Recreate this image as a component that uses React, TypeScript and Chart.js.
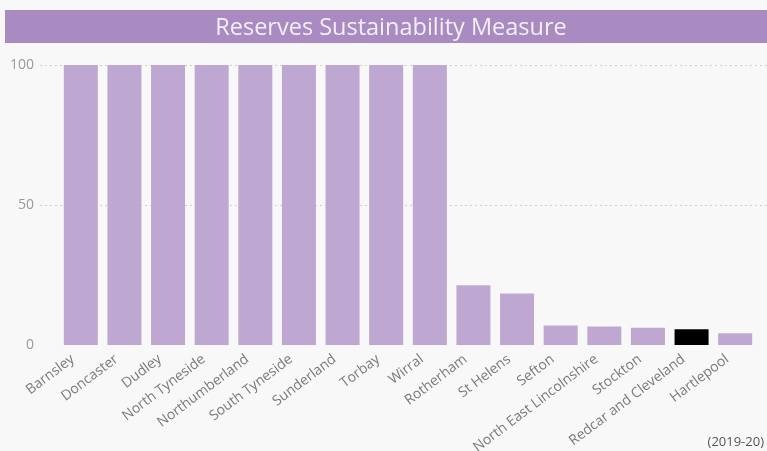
import React, { useEffect, useRef } from "react";
import { Chart, registerables } from "chart.js";

Chart.register(...registerables);

const categories: string[] = [
  "Barnsley",
  "Doncaster",
  "Dudley",
  "North Tyneside",
  "Northumberland",
  "South Tyneside",
  "Sunderland",
  "Torbay",
  "Wirral",
  "Rotherham",
  "St Helens",
  "Sefton",
  "North East Lincolnshire",
  "Stockton",
  "Redcar and Cleveland",
  "Hartlepool",
];

const values: number[] = [100, 100, 100, 100, 100, 100, 100, 100, 100, 21.3, 18.4, 7.0, 6.6, 6.2, 5.6, 4.2];

const highlighted: string[] = ["Redcar and Cleveland"];

const yTicks: number[] = [0, 50, 100];
const gridValues: number[] = [50, 100];

const titleText = "Reserves Sustainability Measure";
const footnote = "(2019-20)";

const BAR_COLOR = "#bea8d2";
const HIGHLIGHT_COLOR = "#000000";
const TITLE_BG = "#a98ac1";
const PAGE_BG = "#f9f8f9";
const FONT = "'Open Sans', 'Noto Sans', sans-serif";

const decorPlugin = {
  id: "decor",
  beforeDraw(chart: any) {
    const ctx = chart.ctx;
    const w = chart.width;
    const h = chart.height;
    ctx.save();
    ctx.fillStyle = PAGE_BG;
    ctx.fillRect(0, 0, w, h);
    ctx.fillStyle = TITLE_BG;
    ctx.fillRect(5, 10, w - 5, 33);
    ctx.fillStyle = "#f4eff7";
    ctx.font = `23.5px ${FONT}`;
    ctx.textAlign = "center";
    ctx.textBaseline = "alphabetic";
    ctx.fillText(titleText, 391, 35);
    ctx.fillStyle = "#555555";
    ctx.font = `13px ${FONT}`;
    ctx.textAlign = "right";
    ctx.textBaseline = "middle";
    ctx.fillText(footnote, 764, 442);
    ctx.restore();
  },
  beforeDatasetsDraw(chart: any) {
    const ctx = chart.ctx;
    const y = chart.scales.y;
    ctx.save();
    ctx.strokeStyle = "#cfcfcf";
    ctx.lineWidth = 1;
    ctx.setLineDash([2, 3]);
    for (const v of gridValues) {
      const py = Math.round(y.getPixelForValue(v)) + 0.5;
      ctx.beginPath();
      ctx.moveTo(40, py);
      ctx.lineTo(chart.width, py);
      ctx.stroke();
    }
    ctx.restore();
  },
};

export default function App() {
  const ref = useRef<HTMLCanvasElement | null>(null);

  useEffect(() => {
    if (!ref.current) return;
    const chart = new Chart(ref.current, {
      type: "bar",
      data: {
        labels: categories,
        datasets: [
          {
            data: values,
            backgroundColor: categories.map((c) => (highlighted.includes(c) ? HIGHLIGHT_COLOR : BAR_COLOR)),
            barPercentage: 0.78,
            categoryPercentage: 1,
          },
        ],
      },
      options: {
        animation: false,
        responsive: false,
        maintainAspectRatio: false,
        layout: { padding: { top: 65, right: 10, left: 0, bottom: 0 } },
        plugins: {
          legend: { display: false },
          title: { display: false },
          tooltip: { enabled: false },
        },
        scales: {
          x: {
            offset: true,
            grid: { display: false, drawTicks: false },
            border: { display: false },
            afterFit: (scale: any) => {
              scale.height = 106;
            },
            ticks: {
              autoSkip: false,
              minRotation: 37,
              maxRotation: 37,
              color: "#7a7a7a",
              font: { family: FONT, size: 14 },
              padding: 6,
              labelOffset: -8,
            },
          },
          y: {
            min: 0,
            max: 100,
            afterBuildTicks: (scale: any) => {
              scale.ticks = yTicks.map((v) => ({ value: v }));
            },
            afterFit: (scale: any) => {
              scale.width = 59;
            },
            grid: { display: false, drawTicks: false },
            border: { display: false },
            ticks: {
              color: "#9a9a9a",
              font: { family: FONT, size: 14 },
              padding: 25,
            },
          },
        },
      },
      plugins: [decorPlugin],
    });
    return () => chart.destroy();
  }, []);

  return (
    <div style={{ position: "absolute", left: 0, top: 0, width: 767, height: 451, background: PAGE_BG }}>
      <canvas ref={ref} width={767} height={451} style={{ display: "block", width: 767, height: 451 }} />
    </div>
  );
}
